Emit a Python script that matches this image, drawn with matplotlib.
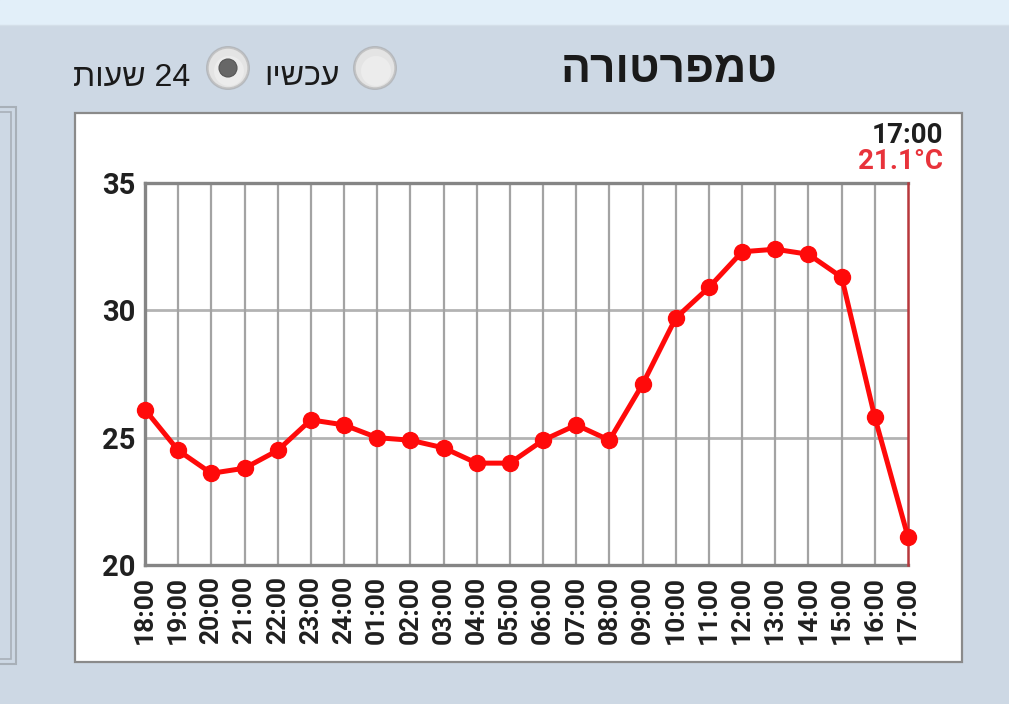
import matplotlib.pyplot as plt
from matplotlib.patches import Rectangle, Circle

# hourly temperatures, last 24 hours
hours = ["18:00", "19:00", "20:00", "21:00", "22:00", "23:00", "24:00", "01:00",
         "02:00", "03:00", "04:00", "05:00", "06:00", "07:00", "08:00", "09:00",
         "10:00", "11:00", "12:00", "13:00", "14:00", "15:00", "16:00", "17:00"]
temps = [26.1, 24.5, 23.6, 23.8, 24.5, 25.7, 25.5, 25.0, 24.9, 24.6, 24.0, 24.0,
         24.9, 25.5, 24.9, 27.1, 29.7, 30.9, 32.3, 32.4, 32.2, 31.3, 25.8, 21.1]
y_ticks = [20, 25, 30, 35]

title = "טמפרטורה"
opt_now = "עכשיו"
opt_24h = "24 שעות"
now_time = "17:00"
now_temp = "21.1°C"


def rtl(s):
    # matplotlib has no bidi support, so lay hebrew out visually
    return " ".join(w if w.isdigit() else w[::-1] for w in reversed(s.split()))


W, H = 1009, 704
fig = plt.figure(figsize=(W / 100, H / 100), dpi=100, facecolor="#cdd8e4")

# decoration layer in pixel coords
bg = fig.add_axes([0, 0, 1, 1])
bg.set_xlim(0, W)
bg.set_ylim(H, 0)
bg.axis("off")
bg.add_patch(Rectangle((0, 0), W, 24, color="#e2eff9", zorder=0))
bg.plot([0, W], [24.5, 24.5], color="#d4dfe9", lw=1)
# left panel edge
bg.add_patch(Rectangle((-10, 107), 26, 557, fill=False, ec="#a8b0b8", lw=1.5))
bg.add_patch(Rectangle((-10, 112), 21, 547, fill=False, ec="#a8b0b8", lw=1.2))
# white chart card
bg.add_patch(Rectangle((75, 113), 887, 549, fc="white", ec="#8a8a8a", lw=1.6))

hebrew = ["Liberation Sans", "DejaVu Sans"]
bg.text(778, 70, rtl(title), ha="right", va="center", fontsize=32,
        fontweight="bold", color="#1a1a1a", family=hebrew)
bg.text(340, 77, rtl(opt_now), ha="right", va="center", fontsize=23,
        color="#1a1a1a", family=hebrew)
bg.text(190, 78, rtl(opt_24h), ha="right", va="center", fontsize=23,
        color="#1a1a1a", family=hebrew)
# radio buttons
for cx, selected in [(228, True), (375, False)]:
    bg.add_patch(Circle((cx, 68), 22, fc="#b4b8bd", ec="none", zorder=2))
    bg.add_patch(Circle((cx, 68), 20, fc="#e4e4e4", ec="#c4c4c4", lw=1, zorder=3))
    bg.add_patch(Circle((cx + 1, 71), 15, fc="#ececec", ec="none", zorder=3))
    if selected:
        bg.add_patch(Circle((cx, 68), 9, fc="#676767", ec="#555555", lw=0.8, zorder=4))

bg.text(943, 143, now_time, ha="right", va="baseline", fontsize=20,
        fontweight="bold", color="#1e1e1e", family="Roboto")
bg.text(943, 169, now_temp, ha="right", va="baseline", fontsize=20,
        fontweight="bold", color="#e8333b", family="Roboto")

# chart
ax = fig.add_axes([145 / W, 1 - 565 / H, 763 / W, 382 / H])
ax.set_facecolor("white")
x = list(range(len(hours)))
ax.plot(x, temps, color="#ff0a0a", lw=3.6, marker="o", markersize=11.5,
        zorder=5, clip_on=False)
ax.set_xlim(0, len(hours) - 1)
ax.set_ylim(20, 35)
ax.set_xticks(x)
ax.set_xticklabels(hours, rotation=90, fontsize=19, fontweight="bold",
                   family="Roboto", color="#202020")
ax.set_yticks(y_ticks)
ax.set_yticklabels([str(v) for v in y_ticks], fontsize=21, fontweight="bold",
                   family="Roboto", color="#202020")
ax.tick_params(length=0, pad=7)
ax.tick_params(axis="x", pad=8)
for t in y_ticks[1:-1]:
    ax.axhline(t, color="#b3b3b3", lw=2, zorder=1)
for xi in x[1:-1]:
    ax.axvline(xi, color="#a3a3a3", lw=1.6, zorder=1)
for side in ["left", "top", "bottom"]:
    ax.spines[side].set_color("#858585")
    ax.spines[side].set_linewidth(2.4)
ax.spines["right"].set_visible(False)
ax.axvline(x[-1], color="#b8383c", lw=1.8, zorder=4, clip_on=False)

fig.savefig("out.png", dpi=100, facecolor=fig.get_facecolor())
